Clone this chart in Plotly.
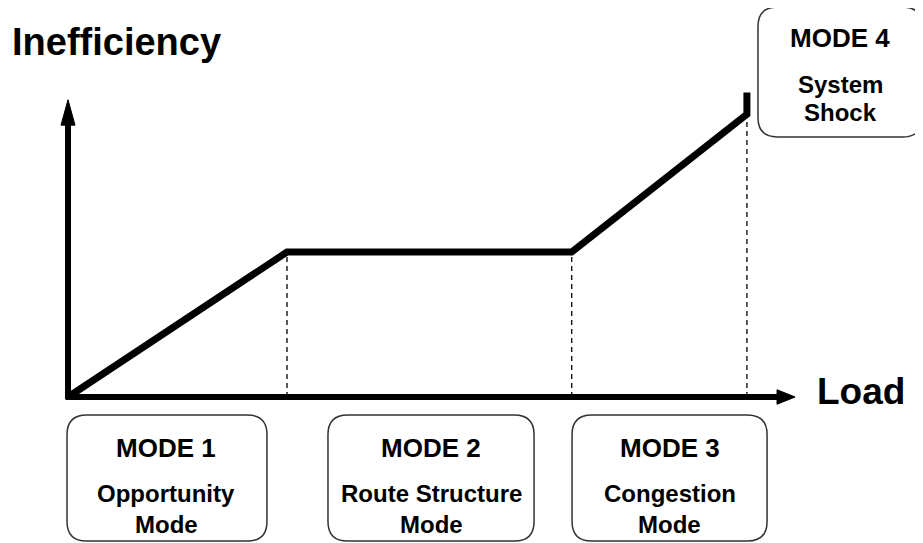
import plotly.graph_objects as go

# load breakpoints and the inefficiency at each one (last point is the shock spike)
load = [0, 2.0, 4.6, 6.2, 6.2]
inefficiency = [0, 2.0, 2.0, 3.9, 4.2]

mode_titles = ["MODE 1", "MODE 2", "MODE 3", "MODE 4"]
mode_names = [["Opportunity", "Mode"], ["Route Structure", "Mode"],
              ["Congestion", "Mode"], ["System", "Shock"]]

FONT = "Liberation Sans"

# the page body has an 8px margin, so the figure is a little smaller than
# the window and the ranges are picked to line up with the window edges
X_RANGE = [-0.548, 7.808]
Y_RANGE = [-2.014, 5.366]


def rounded_box(x0, x1, y0, y1, rx=0.18, ry=0.27):
    return ("M %f,%f L %f,%f Q %f,%f %f,%f L %f,%f Q %f,%f %f,%f "
            "L %f,%f Q %f,%f %f,%f L %f,%f Q %f,%f %f,%f Z") % (
        x0 + rx, y1, x1 - rx, y1, x1, y1, x1, y1 - ry,
        x1, y0 + ry, x1, y0, x1 - rx, y0,
        x0 + rx, y0, x0, y0, x0, y0 + ry,
        x0, y1 - ry, x0, y1, x0 + rx, y1)


fig = go.Figure()

# dashed drop lines from each breakpoint to the load axis
dx, dy = [], []
for i in range(1, 4):
    dx += [load[i], load[i], None]
    dy += [0, inefficiency[i], None]
fig.add_trace(go.Scatter(x=dx, y=dy, mode="lines",
                         line=dict(color="black", width=1.3, dash="5px,4px"),
                         hoverinfo="skip"))

# the inefficiency curve
fig.add_trace(go.Scatter(x=load, y=inefficiency, mode="lines",
                         line=dict(color="black", width=7),
                         hoverinfo="skip"))

shapes = []
# axes with arrow heads
shapes.append(dict(type="line", x0=-0.02, y0=0, x1=6.5, y1=0,
                   line=dict(color="black", width=6)))
shapes.append(dict(type="line", x0=0, y0=-0.03, x1=0, y1=3.8,
                   line=dict(color="black", width=6)))
shapes.append(dict(type="path", path="M 6.475,0.1 L 6.64,0 L 6.475,-0.1 Z",
                   fillcolor="black", line=dict(color="black", width=1)))
shapes.append(dict(type="path", path="M -0.064,3.75 L 0,4.1 L 0.064,3.75 Z",
                   fillcolor="black", line=dict(color="black", width=1)))

# mode boxes
boxes = [(-0.009, 1.817, -1.986, -0.248),
         (2.374, 4.256, -1.986, -0.248),
         (4.603, 6.384, -1.986, -0.248),
         (6.301, 7.799, 3.586, 5.379)]
for b in boxes:
    shapes.append(dict(type="path", path=rounded_box(*b),
                       line=dict(color="#333333", width=1.5)))

annotations = [
    dict(x=-0.53, y=4.9, text="<b>Inefficiency</b>", xanchor="left",
         font=dict(size=38, family=FONT, color="black")),
    dict(x=6.822, y=0.07, text="<b>Load</b>", xanchor="left",
         font=dict(size=37, family=FONT, color="black")),
]
centers = [0.895, 3.315, 5.493, 7.05]
title_y = [-0.703, -0.703, -0.703, 4.952]
name_y = [[-1.338, -1.752], [-1.338, -1.752], [-1.338, -1.752], [4.317, 3.931]]
for i in range(4):
    annotations.append(dict(x=centers[i], y=title_y[i],
                            text="<b>" + mode_titles[i] + "</b>",
                            font=dict(size=26, family=FONT, color="black")))
    for j in range(2):
        annotations.append(dict(x=centers[i], y=name_y[i][j],
                                text="<b>" + mode_names[i][j] + "</b>",
                                font=dict(size=24, family=FONT, color="black")))
for a in annotations:
    a["showarrow"] = False
    a["yanchor"] = "middle"

fig.update_layout(
    width=915, height=535,
    margin=dict(l=0, r=0, t=0, b=0),
    paper_bgcolor="white", plot_bgcolor="white",
    showlegend=False,
    xaxis=dict(range=X_RANGE, visible=False, fixedrange=True),
    yaxis=dict(range=Y_RANGE, visible=False, fixedrange=True),
    shapes=shapes,
    annotations=annotations,
)

fig.write_html("out.html")
